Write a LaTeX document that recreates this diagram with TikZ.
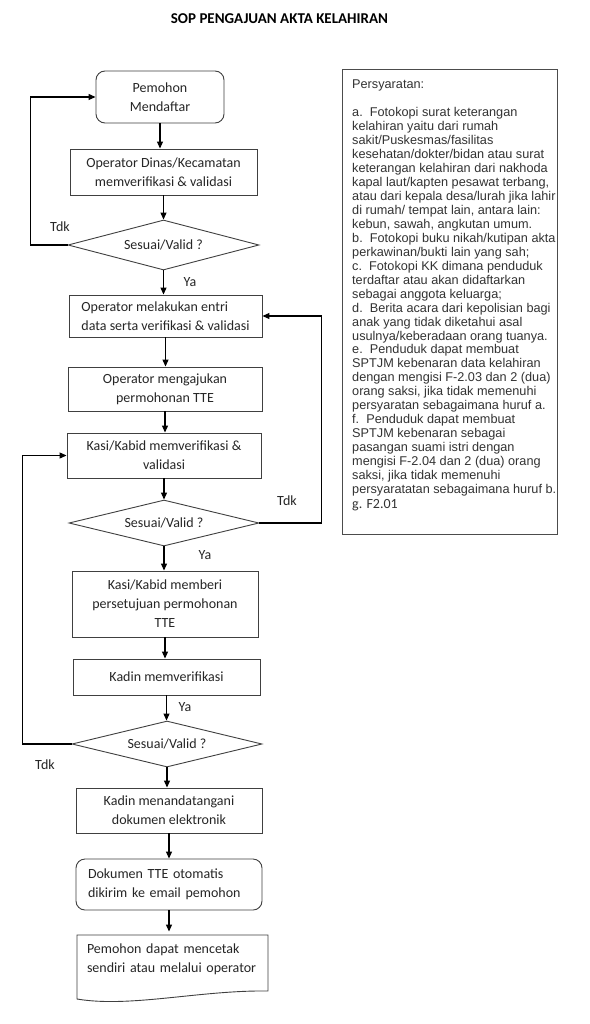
\documentclass[tikz,border=0pt]{standalone}
\usepackage{fontspec}
\setmainfont{Carlito}
\newfontfamily\arialfont{Liberation Sans}
\usetikzlibrary{shapes.geometric,arrows.meta,calc}
\begin{document}
\begin{tikzpicture}[x=1pt,y=-1pt,
  box/.style={draw=black!75,line width=0.9pt,inner sep=0pt,align=center,
    font=\fontsize{14}{19}\selectfont,text=black!85},
  rbox/.style={box,rounded corners=9pt},
  dia/.style={draw=black!75,line width=0.9pt,diamond,inner sep=0pt,
    font=\fontsize{14}{19}\selectfont,text=black!85},
  arr/.style={line width=1.1pt,-{Triangle[length=7pt,width=6pt]}},
  lbl/.style={font=\fontsize{14}{17}\selectfont,text=black!85,inner sep=0pt},
]
\useasboundingbox (0,0) rectangle (589,1024);
\fill[white] (0,0) rectangle (589,1024);

\node[font=\bfseries\fontsize{15}{18}\selectfont,inner sep=0pt] (title) at (279.5,19) {SOP PENGAJUAN AKTA KELAHIRAN};

% flow
\node[rbox,minimum width=128pt,minimum height=52pt] (b1) at (160,97) {Pemohon\\Mendaftar};
\node[box,minimum width=187pt,minimum height=46pt] (b2) at (163.5,172) {Operator Dinas/Kecamatan\\memverifikasi \& validasi};
\node[dia,aspect=3.82,minimum width=191pt,minimum height=50pt] (d1) at (163.5,245) {Sesuai/Valid ?};
\node[box,minimum width=193pt,minimum height=42pt,align=left] (b3) at (165.5,316) {Operator melakukan entri\\data serta verifikasi \& validasi};
\node[box,minimum width=194pt,minimum height=44pt] (b4) at (165,389) {Operator mengajukan\\permohonan TTE};
\node[box,minimum width=194pt,minimum height=45pt] (b5) at (164,455.5) {Kasi/Kabid memverifikasi \&\\validasi};
\node[dia,aspect=4.13,minimum width=190pt,minimum height=46pt] (d2) at (164,523) {Sesuai/Valid ?};
\node[box,minimum width=186pt,minimum height=66pt] (b6) at (165,604) {Kasi/Kabid memberi\\persetujuan permohonan\\TTE};
\node[box,minimum width=187pt,minimum height=36pt] (b7) at (166.5,677) {Kadin memverifikasi};
\node[dia,aspect=4.13,minimum width=190pt,minimum height=46pt] (d3) at (167,744) {Sesuai/Valid ?};
\node[box,minimum width=186pt,minimum height=45pt] (b8) at (169,810.5) {Kadin menandatangani\\dokumen elektronik};
\node[rbox,minimum height=51pt,text width=162pt,inner xsep=12pt,align=left] (b9) at (169,884.5) {Dokumen TTE otomatis\\dikirim ke email pemohon};
\node[box,draw=none,minimum height=54pt,text width=171pt,inner xsep=10pt,align=left] (doc) at (172.5,959) {Pemohon dapat mencetak\\sendiri atau melalui operator};
\draw[draw=black!75,line width=0.9pt] (77,935) -- (268,935) -- (268,991)
  .. controls (200,990) and (130,1008) .. (77,999) -- cycle;

% spine arrows
\draw[arr] (b1.south) -- (b1.south |- b2.north);
\draw[arr] (b2.south) -- (b2.south |- d1.north);
\draw[arr] (d1.south) -- (d1.south |- b3.north);
\draw[arr] (b3.south) -- (b3.south |- b4.north);
\draw[arr] (b4.south) -- (b4.south |- b5.north);
\draw[arr] (b5.south) -- (b5.south |- d2.north);
\draw[arr] (d2.south) -- (d2.south |- b6.north);
\draw[arr] (b6.south) -- (b6.south |- b7.north);
\draw[arr] (b7.south) -- (b7.south |- d3.north);
\draw[arr] (d3.south) -- (d3.south |- b8.north);
\draw[arr] (b8.south) -- (b8.south |- b9.north);
\draw[arr] (b9.south) -- (b9.south |- doc.north);

% loops
\draw[arr] (d1.west) -- ++(-37,0) |- (b1.west);
\draw[arr] (d2.east) -- ++(62,0) |- (b3.east);
\draw[arr] (d3.west) -- ++(-49,0) |- (b5.west);

% labels
\node[lbl] (ya1) at (190,282) {Ya};
\node[lbl] (ya2) at (205,555) {Ya};
\node[lbl] (ya3) at (185,707) {Ya};
\node[lbl] (t1) at (60,227) {Tdk};
\node[lbl] (t2) at (287,501) {Tdk};
\node[lbl] (t3) at (45,765) {Tdk};

% requirements box
\node[draw=black!70,line width=0.8pt,minimum width=215pt,minimum height=465pt,inner sep=0pt] (req) at (449.5,301.5) {};
\node[anchor=north west,inner sep=0pt,align=left,text=black!80,
  font=\arialfont\fontsize{12.7}{13.95}\selectfont] (reqtext) at (352,80) {%
Persyaratan:\\[13.95pt]
a.\ \ Fotokopi surat keterangan\\
kelahiran yaitu dari rumah\\
sakit/Puskesmas/fasilitas\\
kesehatan/dokter/bidan atau surat\\
keterangan kelahiran dari nakhoda\\
kapal laut/kapten pesawat terbang,\\
atau dari kepala desa/lurah jika lahir\\
di rumah/ tempat lain, antara lain:\\
kebun, sawah, angkutan umum.\\
b.\ \ Fotokopi buku nikah/kutipan akta\\
perkawinan/bukti lain yang sah;\\
c.\ \ Fotokopi KK dimana penduduk\\
terdaftar atau akan didaftarkan\\
sebagai anggota keluarga;\\
d.\ \ Berita acara dari kepolisian bagi\\
anak yang tidak diketahui asal\\
usulnya/keberadaan orang tuanya.\\
e.\ \ Penduduk dapat membuat\\
SPTJM kebenaran data kelahiran\\
dengan mengisi F-2.03 dan 2 (dua)\\
orang saksi, jika tidak memenuhi\\
persyaratan sebagaimana huruf a.\\
f.\ \ Penduduk dapat membuat\\
SPTJM kebenaran sebagai\\
pasangan suami istri dengan\\
mengisi F-2.04 dan 2 (dua) orang\\
saksi, jika tidak memenuhi\\
persyaratatan sebagaimana huruf b.\\[1pt]
{\rmfamily\fontsize{14}{15}\selectfont g. F2.01}};
\end{tikzpicture}
\end{document}
